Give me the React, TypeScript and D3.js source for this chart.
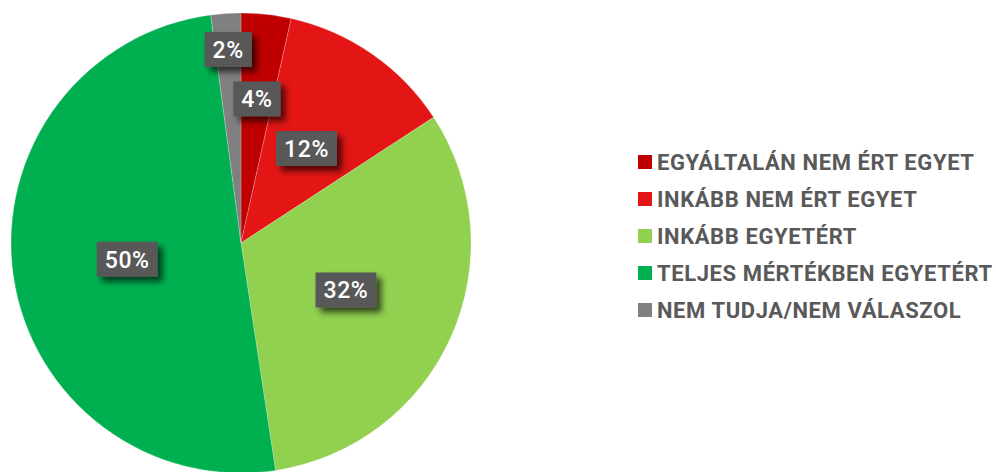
import React, { useEffect, useRef } from "react";
import * as d3 from "d3";

const categories = [
  "EGYÁLTALÁN NEM ÉRT EGYET",
  "INKÁBB NEM ÉRT EGYET",
  "INKÁBB EGYETÉRT",
  "TELJES MÉRTÉKBEN EGYETÉRT",
  "NEM TUDJA/NEM VÁLASZOL",
];
const values = [3.5, 12.3, 31.8, 50.3, 2.1];
const labels = ["4%", "12%", "32%", "50%", "2%"];
const colors = ["#C00000", "#E31515", "#92D050", "#00B050", "#808080"];

const W = 996;
const H = 472;
const FONT = "Roboto, 'DejaVu Sans', sans-serif";

export default function App() {
  const ref = useRef<SVGSVGElement>(null);

  useEffect(() => {
    const svg = d3.select(ref.current);
    svg.selectAll("*").remove();

    const cx = 241, cy = 243, R = 230;

    const defs = svg.append("defs");
    const f = defs.append("filter").attr("id", "shadow").attr("x", "-30%").attr("y", "-30%").attr("width", "180%").attr("height", "200%");
    f.append("feDropShadow").attr("dx", 5).attr("dy", 5).attr("stdDeviation", 3).attr("flood-color", "#000").attr("flood-opacity", 0.65);

    const pie = d3.pie<number>().sort(null).value((d) => d);
    const arcs = pie(values);
    const arc = d3.arc<d3.PieArcDatum<number>>().innerRadius(0).outerRadius(R);

    const g = svg.append("g").attr("transform", `translate(${cx},${cy})`);
    g.selectAll("path.slice")
      .data(arcs)
      .join("path")
      .attr("class", "slice")
      .attr("d", arc)
      .attr("fill", (_d, i) => colors[i])
      .attr("stroke", "rgba(255,255,255,0.35)")
      .attr("stroke-width", 0.6);

    // labels with simple collision avoidance
    const lg = g.append("g");
    const items = arcs.map((a, i) => {
      const t = lg.append("text")
        .attr("font-family", FONT)
        .attr("font-size", 23)
        .attr("font-weight", 500)
        .attr("letter-spacing", 0.6)
        .attr("fill", "#fff")
        .attr("text-anchor", "middle")
        .attr("dominant-baseline", "central")
        .text(labels[i]);
      const tw = (t.node() as SVGTextElement).getComputedTextLength();
      return { a, i, t, w: tw + 16, h: 35, x: 0, y: 0 };
    });
    const order = [...items].sort((p, q) => q.a.value - p.a.value);
    const placed: { x: number; y: number; w: number; h: number }[] = [];
    const pad = 14;
    order.forEach((it) => {
      const mid = (it.a.startAngle + it.a.endAngle) / 2;
      let r = R * 0.5;
      for (; r < R; r += 1) {
        const x = Math.sin(mid) * r;
        const y = -Math.cos(mid) * r;
        const ok = placed.every(
          (p) =>
            Math.abs(p.x - x) >= (p.w + it.w) / 2 + pad ||
            Math.abs(p.y - y) >= (p.h + it.h) / 2 + pad
        );
        if (ok) break;
      }
      it.x = Math.sin(mid) * r;
      it.y = -Math.cos(mid) * r;
      placed.push({ x: it.x, y: it.y, w: it.w, h: it.h });
    });
    items.forEach((it) => {
      lg.insert("rect", "text")
        .attr("x", it.x - it.w / 2)
        .attr("y", it.y - it.h / 2)
        .attr("width", it.w)
        .attr("height", it.h)
        .attr("fill", "#595959")
        .attr("filter", "url(#shadow)");
      it.t.attr("x", it.x).attr("y", it.y + 1).raise();
    });

    // legend
    const leg = svg.append("g").attr("transform", "translate(638,162)");
    const rowY = d3.scaleLinear().domain([0, categories.length - 1]).range([0, 148]);
    categories.forEach((c, i) => {
      const row = leg.append("g").attr("transform", `translate(0,${rowY(i)})`);
      row.append("rect").attr("x", 0).attr("y", -7).attr("width", 14).attr("height", 14).attr("fill", colors[i]);
      row.append("text")
        .attr("x", 19)
        .attr("y", 0)
        .attr("dominant-baseline", "central")
        .attr("font-family", FONT)
        .attr("font-size", 22)
        .attr("font-weight", 700)
        .attr("letter-spacing", 0.6)
        .attr("fill", "#595959")
        .text(c);
    });
  }, []);

  return (
    <svg
      ref={ref}
      width={W}
      height={H}
      style={{ position: "absolute", left: 0, top: 0, background: "#fff" }}
    />
  );
}
